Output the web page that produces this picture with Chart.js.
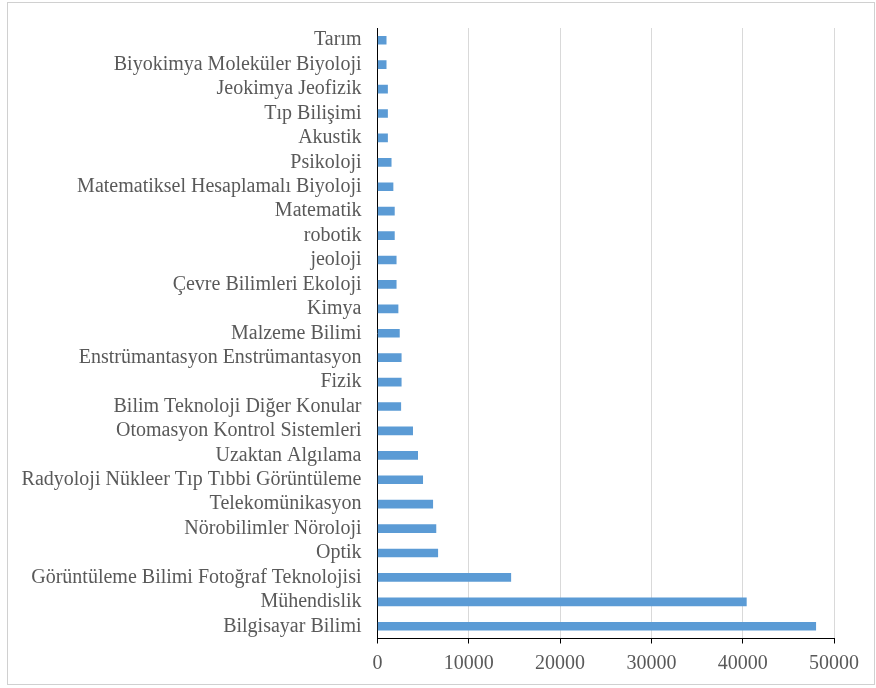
<!DOCTYPE html>
<html>
<head>
<meta charset="utf-8">
<script src="https://cdn.jsdelivr.net/npm/chart.js@4"></script>
<style>
  html, body { margin: 0; padding: 0; background: #ffffff; }
  #wrap { position: relative; width: 876px; height: 688px; }
</style>
</head>
<body>
<div id="wrap"><canvas id="c" width="876" height="688"></canvas></div>
<script>
const categories = [
  "Tarım",
  "Biyokimya Moleküler Biyoloji",
  "Jeokimya Jeofizik",
  "Tıp Bilişimi",
  "Akustik",
  "Psikoloji",
  "Matematiksel Hesaplamalı Biyoloji",
  "Matematik",
  "robotik",
  "jeoloji",
  "Çevre Bilimleri Ekoloji",
  "Kimya",
  "Malzeme Bilimi",
  "Enstrümantasyon Enstrümantasyon",
  "Fizik",
  "Bilim Teknoloji Diğer Konular",
  "Otomasyon Kontrol Sistemleri",
  "Uzaktan Algılama",
  "Radyoloji Nükleer Tıp Tıbbi Görüntüleme",
  "Telekomünikasyon",
  "Nörobilimler Nöroloji",
  "Optik",
  "Görüntüleme Bilimi Fotoğraf Teknolojisi",
  "Mühendislik",
  "Bilgisayar Bilimi"
];
const values = [
  950, 950, 1100, 1100, 1100, 1500, 1700, 1850, 1850, 2050, 2050, 2250,
  2400, 2600, 2600, 2550, 3850, 4400, 4950, 6050, 6400, 6600, 14600, 40400, 48000
];
const xTickValues = [0, 10000, 20000, 30000, 40000, 50000];
const xTickLabels = ["0", "10000", "20000", "30000", "40000", "50000"];

const frame = {
  id: 'frame',
  beforeDraw(chart) {
    const ctx = chart.ctx;
    ctx.save();
    ctx.fillStyle = '#ffffff';
    ctx.fillRect(0, 0, chart.width, chart.height);
    ctx.strokeStyle = '#d0d0d0';
    ctx.lineWidth = 1;
    ctx.strokeRect(7.5, 2.5, 867, 682);
    ctx.restore();
  }
};

new Chart(document.getElementById('c'), {
  type: 'bar',
  data: {
    labels: categories,
    datasets: [{
      data: values,
      backgroundColor: '#5B9BD5',
      borderWidth: 0,
      barThickness: 8
    }]
  },
  plugins: [frame],
  options: {
    indexAxis: 'y',
    responsive: false,
    animation: false,
    devicePixelRatio: 1,
    layout: { padding: { left: 0, top: 26, right: 42, bottom: 0 } },
    plugins: { legend: { display: false }, tooltip: { enabled: false } },
    scales: {
      x: {
        min: 0, max: 50000,
        afterBuildTicks(scale) { scale.ticks = xTickValues.map(v => ({ value: v })); },
        afterFit(scale) { scale.height = 49.5; },
        grid: { color: '#d9d9d9', lineWidth: 1, drawTicks: true, tickLength: 5, tickColor: '#000000' },
        border: { display: true, color: '#000000', width: 1 },
        ticks: {
          font: { family: 'Liberation Serif', size: 20 },
          color: '#595959',
          padding: 8,
          maxRotation: 0,
          autoSkip: false,
          callback(value) {
            const i = xTickValues.indexOf(value);
            return i >= 0 ? xTickLabels[i] : '';
          }
        }
      },
      y: {
        afterFit(scale) { scale.width = 377.5; },
        grid: { display: false, drawTicks: false },
        border: { display: true, color: '#000000', width: 1 },
        ticks: {
          font: { family: 'Liberation Serif', size: 20 },
          color: '#595959',
          padding: 16,
          autoSkip: false
        }
      }
    }
  }
});
</script>
</body>
</html>
